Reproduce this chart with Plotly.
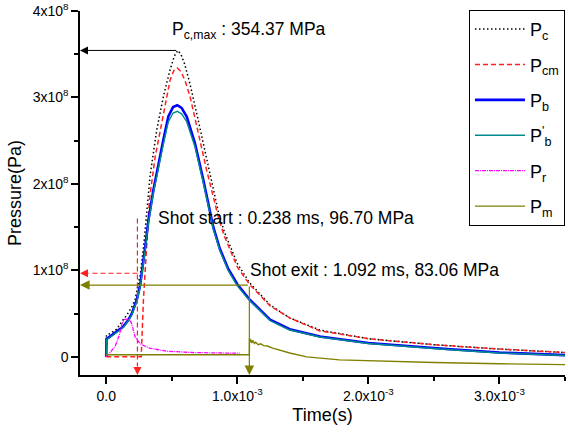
import plotly.graph_objects as go

# ---- data (time in ms, pressure in MPa) ----
t_c = [0, 0.002, 0.03, 0.08, 0.12, 0.16, 0.196, 0.22, 0.245, 0.26, 0.29, 0.31, 0.335, 0.385,
       0.436, 0.487, 0.52, 0.545, 0.57, 0.6, 0.64, 0.7, 0.766, 0.855, 0.9, 1.0, 1.092, 1.25,
       1.4, 1.63, 2.0, 2.5, 3.0, 3.5]
p_c = [0, 25, 27, 32, 41, 49, 58, 66, 85, 95, 135, 170, 210, 262,
       301, 332, 348, 354.37, 350, 338, 315, 275, 230, 168, 145, 108, 86, 60,
       45, 31, 21, 14, 9, 5]

t_cm = [0, 0.267, 0.284, 0.33, 0.373, 0.436, 0.487, 0.515, 0.542, 0.57, 0.6, 0.64, 0.70,
        0.766, 0.855, 0.9, 1.0, 1.092, 1.25, 1.4, 1.63, 2.0, 2.5, 3.0, 3.5]
p_cm = [0, 0, 66, 182, 231, 282, 320, 331, 334, 330, 320, 301, 259,
        216, 162, 140, 104, 84, 59, 45, 30, 21, 14, 9, 5]

t_b = [0, 0.002, 0.015, 0.068, 0.13, 0.17, 0.195, 0.233, 0.259, 0.30, 0.322, 0.36, 0.398,
       0.436, 0.474, 0.51, 0.542, 0.575, 0.614, 0.677, 0.74, 0.78, 0.817, 0.867, 0.93, 1.0,
       1.095, 1.25, 1.4, 1.63, 2.0, 2.6, 3.0, 3.5]
p_b = [0, 21, 22, 28, 35, 43, 50, 66, 83, 130, 158, 193, 224,
       251, 278, 289, 291, 288, 278, 247, 205, 175, 150, 125, 102, 84,
       66, 43, 32, 23.5, 16, 9, 5, 2]
p_b2 = [0, 20, 21, 27, 34, 42, 49, 64, 81, 127, 155, 190, 220,
        246, 272, 282, 284, 281, 272, 243, 202, 173, 148, 123, 100, 82,
        65, 42, 31, 23, 15.5, 8.5, 4.5, 1.5]

t_r = [0, 0.03, 0.07, 0.1, 0.12, 0.135, 0.17, 0.19, 0.205, 0.22, 0.26, 0.33, 0.46, 0.66,
       0.85, 1.02]
p_r = [0, 5, 13, 25, 38, 43, 44, 40, 32, 23, 15, 10, 6.5, 5, 4.5, 4.2]

t_m = [0, 1.092, 1.093, 1.10, 1.105, 1.11, 1.12, 1.13, 1.14, 1.16, 1.18, 1.2, 1.23, 1.27,
       1.4, 1.53, 1.78, 2.0, 2.5, 3.0, 3.5]
p_m = [2.5, 2.5, 21.5, 17, 20, 16, 19, 15.5, 17, 14, 15, 13, 12.5, 10,
       4.5, 0, -3.5, -4.5, -6.5, -8, -9]

# markers
pc_max_t, pc_max_p = 0.545, 354.37
start_t, start_p = 0.238, 96.70
exit_t, exit_p = 1.092, 83.06

x_ticks = [0, 1e-3, 2e-3, 3e-3]
x_ticktext = ["0.0", "1.0x10<sup>-3</sup>", "2.0x10<sup>-3</sup>", "3.0x10<sup>-3</sup>"]
y_ticks = [0, 1e8, 2e8, 3e8, 4e8]
y_ticktext = ["0", "1x10<sup>8</sup>", "2x10<sup>8</sup>", "3x10<sup>8</sup>", "4x10<sup>8</sup>"]

XMIN, XMAX = -0.2e-3, 3.5e-3
YMIN, YMAX = -0.21e8, 4e8


def s(ts):
    return [v * 1e-3 for v in ts]


def pa(ps):
    return [v * 1e6 for v in ps]


series = [
    ("P<sub>c</sub>", t_c, p_c, "black", 1.5, "1.5px,2.5px"),
    ("P<sub>cm</sub>", t_cm, p_cm, "#ff2020", 1.5, "5px,3px"),
    ("P<sub>b</sub>", t_b, p_b, "#0000ff", 2.6, "solid"),
    ("P<sup>'</sup><sub>b</sub>", t_b, p_b2, "#008b8b", 1.4, "solid"),
    ("P<sub>r</sub>", t_r, p_r, "#ff00ff", 1.3, "4px,1px,1px,1px"),
    ("P<sub>m</sub>", t_m, p_m, "#808000", 1.4, "solid"),
]

fig = go.Figure()
for i, (name, tt, pp, col, w, dash) in enumerate(series):
    fig.add_trace(go.Scatter(x=s(tt), y=pa(pp), mode="lines", name=name,
                             legendgroup=f"g{i}",
                             line=dict(color=col, width=w, dash=dash)))

ann = []
shapes = []

# P_c,max arrow (black, solid)
ann.append(dict(x=XMIN, y=pc_max_p * 1e6, ax=pc_max_t * 1e-3, ay=pc_max_p * 1e6,
                xref="x", yref="y", axref="x", ayref="y", text="", showarrow=True,
                arrowhead=2, arrowsize=1.6, arrowwidth=1, arrowcolor="black"))
# shot start: dashed red lines + heads
shapes.append(dict(type="line", xref="x", yref="y", x0=start_t * 1e-3, x1=XMIN + 0.07e-3,
                   y0=start_p * 1e6, y1=start_p * 1e6,
                   line=dict(color="#ff2020", width=1.2, dash="5px,3px")))
shapes.append(dict(type="line", xref="x", yref="y", x0=start_t * 1e-3, x1=start_t * 1e-3,
                   y0=1.6e8, y1=YMIN + 0.1e8,
                   line=dict(color="#ff2020", width=1.2, dash="5px,3px")))
ann.append(dict(x=XMIN, y=start_p * 1e6, ax=10, ay=0, xref="x", yref="y", text="",
                showarrow=True, arrowhead=2, arrowsize=1.6, arrowwidth=1, arrowcolor="#ff2020"))
ann.append(dict(x=start_t * 1e-3, y=YMIN, ax=0, ay=-10, xref="x", yref="y", text="",
                showarrow=True, arrowhead=2, arrowsize=1.6, arrowwidth=1, arrowcolor="#ff2020"))
# shot exit: olive solid arrows
ann.append(dict(x=XMIN, y=exit_p * 1e6, ax=exit_t * 1e-3, ay=exit_p * 1e6,
                xref="x", yref="y", axref="x", ayref="y", text="", showarrow=True,
                arrowhead=2, arrowsize=1.6, arrowwidth=1.2, arrowcolor="#808000"))
ann.append(dict(x=exit_t * 1e-3, y=YMIN, ax=exit_t * 1e-3, ay=exit_p * 1e6,
                xref="x", yref="y", axref="x", ayref="y", text="", showarrow=True,
                arrowhead=2, arrowsize=1.6, arrowwidth=1.2, arrowcolor="#808000"))

# labels
lab_font = dict(family="Liberation Sans, Arial", size=17.5, color="black")
ann.append(dict(x=0.488e-3, y=3.78e8, xref="x", yref="y", xanchor="left", yanchor="middle",
                text="P<sub>c,max</sub> : 354.37 MPa", showarrow=False, font=lab_font))
ann.append(dict(x=0.381e-3, y=1.607e8, xref="x", yref="y", xanchor="left", yanchor="middle",
                text="Shot start : 0.238 ms, 96.70 MPa", showarrow=False, font=lab_font))
ann.append(dict(x=1.082e-3, y=1.006e8, xref="x", yref="y", xanchor="left", yanchor="middle",
                text="Shot exit : 1.092 ms, 83.06 MPa", showarrow=False, font=lab_font))

fig.update_layout(
    width=568, height=432,
    margin=dict(l=80, r=3, t=11, b=57, autoexpand=False),
    plot_bgcolor="white", paper_bgcolor="white",
    font=dict(family="Liberation Sans, Arial", size=14, color="black"),
    annotations=ann, shapes=shapes,
    legend=dict(x=0.802, y=1.003, xanchor="left", yanchor="top",
                bordercolor="black", borderwidth=1, bgcolor="white",
                font=dict(size=18), tracegroupgap=9, traceorder="grouped",
                itemwidth=50, entrywidth=120),
    xaxis=dict(range=[XMIN, XMAX], showline=True, linecolor="black", linewidth=1.5,
               ticks="outside", ticklen=7, tickwidth=1.5, tickcolor="black",
               tickmode="array", tickvals=x_ticks, ticktext=x_ticktext,
               minor=dict(tickmode="array", tickvals=[0.5e-3, 1.5e-3, 2.5e-3, 3.5e-3],
                          ticks="outside", ticklen=4, tickwidth=1.5, tickcolor="black"),
               showgrid=False, zeroline=False,
               title=dict(text="Time(s)", font=dict(size=18), standoff=6)),
    yaxis=dict(range=[YMIN, YMAX], showline=True, linecolor="black", linewidth=1.5,
               ticks="outside", ticklen=7, tickwidth=1.5, tickcolor="black",
               tickmode="array", tickvals=y_ticks, ticktext=y_ticktext,
               minor=dict(tickmode="array", tickvals=[0.5e8, 1.5e8, 2.5e8, 3.5e8],
                          ticks="outside", ticklen=4, tickwidth=1.5, tickcolor="black"),
               showgrid=False, zeroline=False,
               title=dict(text="Pressure(Pa)", font=dict(size=18), standoff=6)),
)

fig.write_html("out.html")
